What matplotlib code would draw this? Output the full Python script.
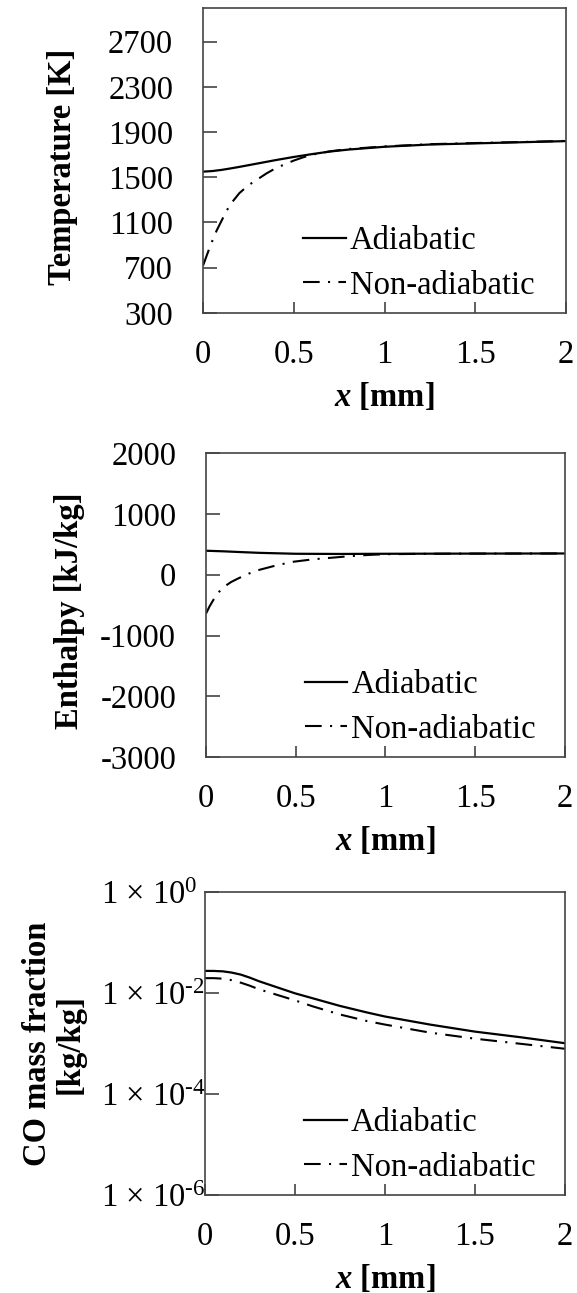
import numpy as np
import matplotlib
matplotlib.use("Agg")
import matplotlib.pyplot as plt
from matplotlib.ticker import FixedLocator, FuncFormatter, NullLocator

plt.rcParams['font.family'] = ['Liberation Serif', 'DejaVu Serif']
plt.rcParams['mathtext.fontset'] = 'custom'
plt.rcParams['mathtext.rm'] = 'Liberation Serif'
plt.rcParams['mathtext.it'] = 'Liberation Serif:italic:bold'
plt.rcParams['mathtext.bf'] = 'Liberation Serif:bold'
plt.rcParams['axes.unicode_minus'] = False

# temperature [K]
x_t_adi = [0.0, 0.05, 0.1, 0.15, 0.2, 0.3, 0.4, 0.5, 0.6, 0.7, 0.8, 1.0, 1.25, 1.5, 1.75, 2.0]
t_adi = [1550, 1555, 1565, 1578, 1592, 1622, 1652, 1680, 1705, 1728, 1745, 1770, 1790, 1800, 1810, 1820]
x_t_non = [0.0, 0.025, 0.05, 0.075, 0.1, 0.125, 0.15, 0.2, 0.25, 0.3, 0.35, 0.4, 0.45, 0.5,
           0.55, 0.6, 0.7, 0.8, 1.0, 1.25, 1.5, 1.75, 2.0]
t_non = [720, 830, 935, 1030, 1110, 1190, 1260, 1360, 1430, 1482, 1535, 1580, 1615, 1648,
         1676, 1700, 1730, 1750, 1773, 1793, 1803, 1812, 1822]

# enthalpy [kJ/kg]
x_h_adi = [0.0, 0.1, 0.2, 0.3, 0.5, 0.75, 1.0, 1.5, 2.0]
h_adi = [395, 385, 372, 360, 345, 342, 345, 348, 350]
x_h_non = [0.0, 0.02, 0.04, 0.07, 0.1, 0.14, 0.18, 0.24, 0.29, 0.4, 0.49, 0.6, 0.7, 0.8, 0.9, 1.0, 1.25, 1.5, 2.0]
h_non = [-640, -520, -420, -290, -200, -120, -60, 20, 75, 160, 215, 255, 280, 305, 325, 338, 345, 348, 350]

# CO mass fraction [kg/kg], log10 values
x_co = [0.0, 0.05, 0.1, 0.15, 0.2, 0.25, 0.3, 0.4, 0.5, 0.6, 0.75, 0.9, 1.0, 1.25, 1.5, 1.75, 2.0]
log_co_adi = [-1.556, -1.557, -1.565, -1.59, -1.63, -1.69, -1.76, -1.88, -2.0, -2.1, -2.25,
              -2.38, -2.46, -2.62, -2.76, -2.87, -2.99]
log_co_non = [-1.70, -1.70, -1.71, -1.74, -1.79, -1.85, -1.92, -2.03, -2.14, -2.26, -2.42,
              -2.55, -2.62, -2.78, -2.90, -3.0, -3.10]

xticks = [0, 0.5, 1, 1.5, 2]
xticklabels = ['0', '0.5', '1', '1.5', '2']

FS = 23.5
dashdot = (0, (8, 4, 1, 4))


def co_label(v, pos):
    e = int(round(np.log10(v)))
    if e < 0:
        return '1 \u00d7 10$^{\\text{-}%d}$' % (-e)
    return '1 \u00d7 10$^{%d}$' % e


def style(ax, ylabel, lab_x):
    ax.set_xlim(0, 2)
    ax.set_xticks(xticks)
    ax.set_xticklabels(xticklabels)
    ax.tick_params(axis='x', direction='in', length=8, width=1.2, pad=19, labelsize=FS,
                   color='#444444')
    ax.tick_params(axis='y', direction='in', length=10, width=1.2, pad=21.5, labelsize=FS,
                   color='#444444')
    for s in ax.spines.values():
        s.set_linewidth(1.2)
        s.set_color('#444444')
    ax.set_xlabel(r'$x$ [mm]', fontsize=FS, fontweight='bold', labelpad=8)
    ax.set_ylabel(ylabel, fontsize=FS, fontweight='bold', linespacing=1.08)
    ax.yaxis.set_label_coords(lab_x, 0.48)
    ax.legend(loc='lower left', bbox_to_anchor=(0.276, 0.04), frameon=False, fontsize=FS,
              handlelength=1.3, handletextpad=0.12, labelspacing=0.43, borderaxespad=0,
              borderpad=0)


fig = plt.figure(figsize=(5.77, 12.93), dpi=100)

ax1 = fig.add_axes([0.352, 0.758, 0.629, 0.236])
ax1.plot(x_t_adi, t_adi, color='black', lw=1.6, label='Adiabatic')
ax1.plot(x_t_non, t_non, color='black', lw=1.5, linestyle=dashdot, label='Non-adiabatic')
ax1.set_ylim(300, 3000)
ax1.set_yticks([300, 700, 1100, 1500, 1900, 2300, 2700])
style(ax1, 'Temperature [K]', -0.345)

ax2 = fig.add_axes([0.357, 0.4145, 0.622, 0.235])
ax2.plot(x_h_adi, h_adi, color='black', lw=1.6, label='Adiabatic')
ax2.plot(x_h_non, h_non, color='black', lw=1.5, linestyle=dashdot, label='Non-adiabatic')
ax2.set_ylim(-3000, 2000)
ax2.set_yticks([-3000, -2000, -1000, 0, 1000, 2000])
style(ax2, 'Enthalpy [kJ/kg]', -0.336)

ax3 = fig.add_axes([0.355, 0.0758, 0.624, 0.234])
ax3.plot(x_co, 10 ** np.array(log_co_adi), color='black', lw=1.6, label='Adiabatic')
ax3.plot(x_co, 10 ** np.array(log_co_non), color='black', lw=1.5, linestyle=dashdot, label='Non-adiabatic')
ax3.set_yscale('log')
ax3.set_ylim(1e-6, 1)
ax3.yaxis.set_major_locator(FixedLocator([1e-6, 1e-4, 1e-2, 1]))
ax3.yaxis.set_minor_locator(NullLocator())
ax3.yaxis.set_major_formatter(FuncFormatter(co_label))
style(ax3, 'CO mass fraction\n[kg/kg]', -0.33)
ax3.yaxis.label.set_y(0.5)
ax3.tick_params(axis='y', pad=75)
plt.setp(ax3.get_yticklabels(), ha='left')

fig.savefig('out.png', dpi=100)
